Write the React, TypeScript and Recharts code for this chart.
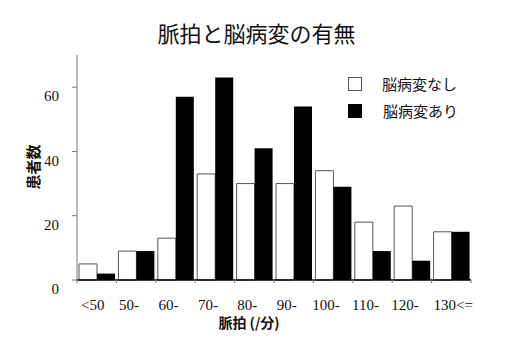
import { BarChart, Bar, XAxis, YAxis } from 'recharts';

const categories = ['<50', '50-', '60-', '70-', '80-', '90-', '100-', '110-', '120-', '130<='];
const withoutLesion = [5, 9, 13, 33, 30, 30, 34, 18, 23, 15];
const withLesion = [2, 9, 57, 63, 41, 54, 29, 9, 6, 15];
const yTicks = [0, 20, 40, 60];
const legendNames = ['脳病変なし', '脳病変あり'];

const data = categories.map((c, i) => ({
    range: c,
    none: withoutLesion[i],
    some: withLesion[i],
}));

const serif = '"Liberation Serif", "DejaVu Serif", serif';
const gothic = '"Noto Sans CJK JP", "Noto Sans", sans-serif';

const XTick = ({ x, y, payload, index, width, visibleTicksCount }: any) => {
    const step = width / visibleTicksCount;
    const last = index === visibleTicksCount - 1;
    const dx = index === 0 ? -4 : last ? 2 : -7;
    return (
        <g>
            <line x1={x - step / 2} x2={x - step / 2} y1={y - 8} y2={y - 5} stroke="#777" />
            {last && <line x1={x + step / 2} x2={x + step / 2} y1={y - 8} y2={y - 5} stroke="#777" />}
            <text x={x + dx} y={y + 22} textAnchor="middle" fontFamily={serif} fontSize={15} fill="#111">
                {payload.value}
            </text>
        </g>
    );
};

const YTick = ({ x, y, payload }: any) => (
    <text x={x} y={y + 9} dy="0.35em" textAnchor="end" fontFamily={serif} fontSize={15} fill="#111">
        {payload.value}
    </text>
);

export default function App() {
    return (
        <div style={{ position: 'absolute', left: 0, top: 0, width: 510, height: 353, background: '#fff' }}>
            <BarChart
                width={510}
                height={353}
                data={data}
                margin={{ top: 55, right: 39, left: 20, bottom: 42 }}
                barCategoryGap={2}
                barGap={0}
                style={{ position: 'absolute', left: 0, top: 0 }}
            >
                <XAxis
                    dataKey="range"
                    height={31}
                    axisLine={{ stroke: '#000', strokeWidth: 1.5 }}
                    tickLine={false}
                    tick={<XTick />}
                    interval={0}
                />
                <YAxis
                    width={57}
                    domain={[0, 70]}
                    ticks={yTicks}
                    axisLine={{ stroke: '#777' }}
                    tickLine={{ stroke: '#777' }}
                    tickSize={5}
                    tickMargin={13}
                    tick={<YTick />}
                />
                <Bar dataKey="none" name={legendNames[0]} fill="#fff" stroke="#555" strokeWidth={1} isAnimationActive={false} />
                <Bar dataKey="some" name={legendNames[1]} fill="#000" isAnimationActive={false} />
            </BarChart>
            <div
                style={{
                    position: 'absolute', top: 17, left: 0, width: 513, textAlign: 'center',
                    fontFamily: gothic, fontSize: 22, color: '#111', lineHeight: '30px',
                }}
            >
                脈拍と脳病変の有無
            </div>
            <div
                style={{
                    position: 'absolute', left: 32, top: 167, transform: 'translate(-50%, -50%) rotate(-90deg)',
                    fontFamily: gothic, fontSize: 15, fontWeight: 700, color: '#111', whiteSpace: 'nowrap',
                }}
            >
                患者数
            </div>
            <div
                style={{
                    position: 'absolute', left: 249, top: 322, transform: 'translate(-50%, -50%)',
                    fontFamily: gothic, fontSize: 14, fontWeight: 700, color: '#111', whiteSpace: 'nowrap',
                }}
            >
                脈拍 (/分)
            </div>
            <div
                style={{
                    position: 'absolute', left: 348, top: 70, fontFamily: gothic, fontSize: 15,
                    color: '#111', lineHeight: '27px',
                }}
            >
                <div style={{ display: 'flex', alignItems: 'center' }}>
                    <span style={{ width: 12, height: 12, border: '1px solid #555', background: '#fff', marginRight: 20 }} />
                    <span>{legendNames[0]}</span>
                </div>
                <div style={{ display: 'flex', alignItems: 'center' }}>
                    <span style={{ width: 14, height: 14, background: '#000', marginRight: 21 }} />
                    <span>{legendNames[1]}</span>
                </div>
            </div>
        </div>
    );
}
